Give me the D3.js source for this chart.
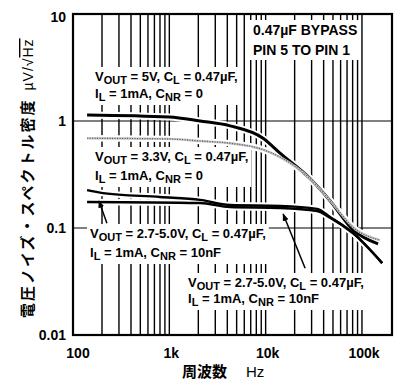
<!DOCTYPE html>
<meta charset="utf-8">
<style>
body { margin: 0; background: #fff; }
.chart text { font-family: "Liberation Sans", Arial, sans-serif; fill: #000; }
.tick-label { font-size: 14px; font-weight: bold; }
.note { font-size: 13px; font-weight: bold; }
.jp { font-family: "Noto Sans CJK JP", sans-serif !important; font-weight: bold; }
</style>
<svg class="chart"></svg>
<script src="https://cdnjs.cloudflare.com/ajax/libs/d3/7.8.5/d3.min.js"></script>
<script>

var xTicks = [100, 1000, 10000, 100000];
var xTickLabels = ["100", "1k", "10k", "100k"];
var yTicks = [10, 1, 0.1, 0.01];
var yTickLabels = ["10", "1", "0.1", "0.01"];

// VOUT = 5V, CNR = 0
var freq5V = [140, 1000, 2080, 4270, 9400, 14100, 28900, 46600, 80900, 147000];
var noise5V = [1.14, 1.09, 1.0, 0.90, 0.69, 0.50, 0.29, 0.18, 0.096, 0.071];

// VOUT = 3.3V, CNR = 0 (grey dotted)
var freq33V = [140, 1000, 2080, 4270, 9400, 14100, 28900, 46600, 84700, 154000];
var noise33V = [0.69, 0.68, 0.65, 0.62, 0.54, 0.46, 0.29, 0.18, 0.098, 0.077];

// VOUT = 2.7-5.0V, CNR = 10nF (two traces)
var freqNRa = [140, 205, 800, 2080, 4270, 14100, 34200, 46600, 80900, 162000];
var noiseNRa = [0.226, 0.212, 0.195, 0.183, 0.164, 0.161, 0.151, 0.127, 0.090, 0.047];
var freqNRb = [140, 2080, 4270, 14100, 34200, 46600, 80900, 162000];
var noiseNRb = [0.175, 0.171, 0.157, 0.154, 0.144, 0.125, 0.089, 0.047];

var width = 401, height = 385;
var plotL = 73, plotR = 392, plotT = 14, plotB = 335;

var chart = d3.select(".chart")
  .attr("width", width)
  .attr("height", height);

var x = d3.scaleLog().domain([100, 205000]).range([plotL, plotR]);
var y = d3.scaleLog().domain([0.01, 10]).range([plotB, plotT]);

function pairs(fs, vs) {
  return fs.map(function(f, i) { return [f, vs[i]]; });
}

var line = d3.line()
  .x(function(d) { return x(d[0]); })
  .y(function(d) { return y(d[1]); })
  .curve(d3.curveMonotoneX);

// vertical grid at every 1..9 step of each decade
var gridFreqs = [];
[100, 1000, 10000, 100000].forEach(function(dec) {
  for (var m = 1; m < 10; m++) {
    var f = dec * m;
    if (f > 100 && f < 200000) gridFreqs.push(f);
  }
});

chart.append("g")
  .selectAll("line")
  .data(gridFreqs)
  .enter().append("line")
    .attr("x1", function(d) { return x(d); })
    .attr("x2", function(d) { return x(d); })
    .attr("y1", plotT)
    .attr("y2", plotB)
    .style("stroke", "#000")
    .style("stroke-width", 1.4);

chart.append("g")
  .selectAll("line")
  .data([1, 0.1])
  .enter().append("line")
    .attr("x1", plotL)
    .attr("x2", plotR)
    .attr("y1", function(d) { return y(d); })
    .attr("y2", function(d) { return y(d); })
    .style("stroke", "#000")
    .style("stroke-width", 1);

// curves, each on a white halo
var curves = [
  { d: pairs(freq5V, noise5V), w: 3 },
  { d: pairs(freq33V, noise33V), w: 2.4, dotted: true },
  { d: pairs(freqNRa, noiseNRa), w: 2.4 },
  { d: pairs(freqNRb, noiseNRb), w: 2.4 }
];

var curveG = chart.append("g");
curves.forEach(function(c) {
  curveG.append("path")
    .attr("d", line(c.d))
    .style("fill", "none")
    .style("stroke", "#fff")
    .style("stroke-width", c.w + 4);
});
curves.forEach(function(c) {
  if (c.dotted) {
    curveG.append("path")
      .attr("d", line(c.d))
      .style("fill", "none")
      .style("stroke", "#c4c4c4")
      .style("stroke-width", c.w);
    curveG.append("path")
      .attr("d", line(c.d))
      .style("fill", "none")
      .style("stroke", "#555")
      .style("stroke-width", 1.2)
      .style("stroke-dasharray", "1,1.5");
  } else {
    curveG.append("path")
      .attr("d", line(c.d))
      .style("fill", "none")
      .style("stroke", "#000")
      .style("stroke-width", c.w);
  }
});

// text notes with white boxes behind them; _{..} marks a subscript
function note(px, py, lines, gap, size) {
  var g = chart.append("g");
  var t = g.append("text")
    .attr("class", "note")
    .attr("x", px)
    .attr("y", py);
  if (size) t.style("font-size", size + "px");
  lines.forEach(function(str, li) {
    var parts = str.split(/(_\{[^}]*\})/).filter(function(s) { return s.length; });
    parts.forEach(function(p, pi) {
      var sp = t.append("tspan");
      if (pi === 0) sp.attr("x", px).attr("y", py + li * gap);
      if (p.indexOf("_{") === 0) {
        sp.text(p.slice(2, -1)).attr("dy", 3).style("font-size", "11px");
      } else {
        sp.text(p);
        if (pi > 0 && parts[pi - 1].indexOf("_{") === 0) sp.attr("dy", -3);
      }
    });
  });
  var bb = t.node().getBBox();
  g.insert("rect", "text")
    .attr("x", bb.x - 3)
    .attr("y", bb.y - 2)
    .attr("width", bb.width + 6)
    .attr("height", bb.height + 4)
    .style("fill", "#fff");
}

note(253, 35, ["0.47µF BYPASS", "PIN 5 TO PIN 1"], 20, 14);
note(95, 81, ["V_{OUT} = 5V, C_{L} = 0.47µF,", "I_{L} = 1mA, C_{NR} = 0"], 17);
note(95, 161, ["V_{OUT} = 3.3V, C_{L} = 0.47µF,", "I_{L} = 1mA, C_{NR} = 0"], 19);
note(90, 238, ["V_{OUT} = 2.7-5.0V, C_{L} = 0.47µF,", "I_{L} = 1mA, C_{NR} = 10nF"], 19);
note(188, 287, ["V_{OUT} = 2.7-5.0V, C_{L} = 0.47µF,", "I_{L} = 1mA, C_{NR} = 10nF"], 16);

// pointer arrows from the lower notes to their traces
chart.append("defs").append("marker")
  .attr("id", "head")
  .attr("viewBox", "0 0 10 10")
  .attr("refX", 9).attr("refY", 5)
  .attr("markerWidth", 5).attr("markerHeight", 5)
  .attr("orient", "auto")
  .append("path").attr("d", "M0,1L10,5L0,9Z").style("fill", "#000");

var arrows = [
  [[225, 0.111], [186, 0.179]],
  [[25700, 0.042], [15200, 0.135]]
];
chart.append("g")
  .selectAll("line")
  .data(arrows)
  .enter().append("line")
    .attr("x1", function(d) { return x(d[0][0]); })
    .attr("y1", function(d) { return y(d[0][1]); })
    .attr("x2", function(d) { return x(d[1][0]); })
    .attr("y2", function(d) { return y(d[1][1]); })
    .attr("marker-end", "url(#head)")
    .style("stroke", "#000")
    .style("stroke-width", 1.5);

// frame
chart.append("rect")
  .attr("x", plotL)
  .attr("y", plotT)
  .attr("width", plotR - plotL)
  .attr("height", plotB - plotT)
  .style("fill", "none")
  .style("stroke", "#000")
  .style("stroke-width", 2.2);

// tick labels
chart.append("g")
  .selectAll("text")
  .data(yTicks)
  .enter().append("text")
    .attr("class", "tick-label")
    .attr("x", 66)
    .attr("y", function(d, i) { return y(d) + (i === 0 ? 3 : 0); })
    .attr("dy", "0.35em")
    .style("text-anchor", "end")
    .text(function(d, i) { return yTickLabels[i]; });

chart.append("g")
  .selectAll("text")
  .data(xTicks)
  .enter().append("text")
    .attr("class", "tick-label")
    .attr("x", function(d, i) { return x(d) + (i === 0 ? 5 : 2); })
    .attr("y", 358)
    .style("text-anchor", "middle")
    .text(function(d, i) { return xTickLabels[i]; });

// axis titles
var xt = chart.append("text")
  .attr("x", 182)
  .attr("y", 377)
  .style("font-size", "15px");
xt.append("tspan").attr("class", "jp").text("周波数");
xt.append("tspan").attr("dx", 19).text("Hz");

var yt = chart.append("text")
  .attr("transform", "translate(33, 318) rotate(-90)")
  .style("font-size", "15px");
yt.append("tspan").attr("class", "jp").style("letter-spacing", "2px").text("電圧ノイズ・スペクトル密度");
yt.append("tspan").attr("dx", 8).style("font-size", "14px").style("letter-spacing", "1px").text("µV/√");
yt.append("tspan").style("font-size", "14px").style("letter-spacing", "1px").style("text-decoration", "overline").text("Hz");

</script>
